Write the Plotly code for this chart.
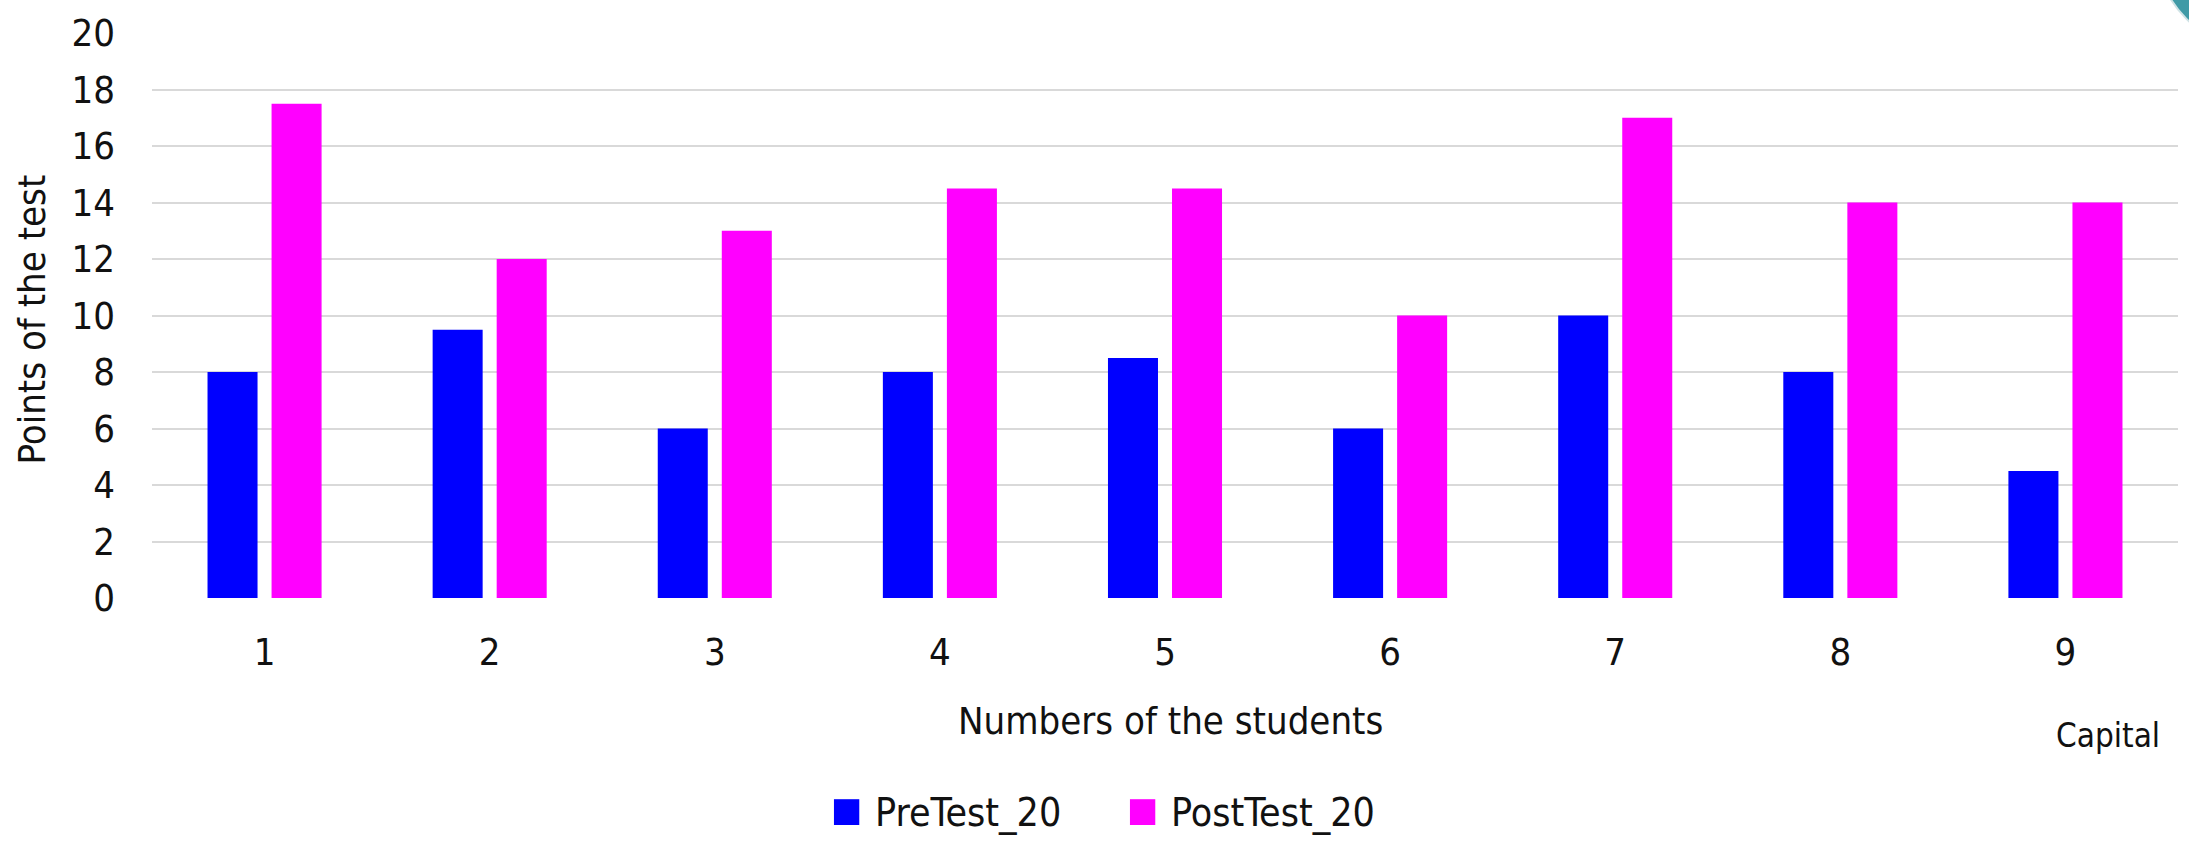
import plotly.graph_objects as go

students = ["1", "2", "3", "4", "5", "6", "7", "8", "9"]
pre_test = [8, 9.5, 6, 8, 8.5, 6, 10, 8, 4.5]
post_test = [17.5, 12, 13, 14.5, 14.5, 10, 17, 14, 14]
y_ticks = [0, 2, 4, 6, 8, 10, 12, 14, 16, 18, 20]
series_names = ["PreTest_20", "PostTest_20"]
series_colors = ["#0000ff", "#ff00ff"]

FONT = "DejaVu Sans Condensed, Liberation Sans Narrow, sans-serif"

fig = go.Figure()
for name, vals, col in zip(series_names, [pre_test, post_test], series_colors):
    fig.add_trace(go.Bar(x=students, y=vals, name=name, showlegend=False,
                         marker=dict(color=col, line=dict(width=0))))

# legend drawn below the chart: coloured squares with text labels
legend_shapes = []
legend_notes = []
legend_x = [0.3366, 0.4827]
for lx, name, col in zip(legend_x, series_names, series_colors):
    legend_shapes.append(dict(type="rect", xref="paper", yref="paper",
                              x0=lx, x1=lx + 0.0125, y0=-0.4018, y1=-0.3561,
                              fillcolor=col, line=dict(width=0)))
    legend_notes.append(dict(text=name, xref="paper", yref="paper", x=lx + 0.0195, y=-0.379,
                             showarrow=False, xanchor="left", yanchor="middle",
                             font=dict(size=39, family=FONT, color="#111111")))

fig.update_layout(
    width=2189, height=846,
    margin=dict(l=152, r=11, t=28, b=248),
    paper_bgcolor="white", plot_bgcolor="white",
    barmode="group", bargap=0.431, bargroupgap=0.219,
    font=dict(family=FONT, color="#111111"),
    showlegend=False,
    xaxis=dict(type="category", showgrid=False, zeroline=False, showline=False,
               ticks="", ticklabelstandoff=28, tickfont=dict(size=38, family=FONT)),
    yaxis=dict(range=[0, 20], tickvals=y_ticks, showgrid=True, gridcolor="#d9d9d9",
               gridwidth=2, zeroline=False, showline=False, ticks="",
               ticklabelstandoff=36, tickfont=dict(size=38, family=FONT)),
    annotations=[
        dict(text="Points of the test", xref="paper", yref="paper", x=-0.0592, y=0.493,
             textangle=-90, showarrow=False, font=dict(size=38, family=FONT),
             xanchor="center", yanchor="middle"),
        dict(text="Numbers of the students", xref="paper", yref="paper", x=0.5025, y=-0.2175,
             showarrow=False, font=dict(size=38, family=FONT),
             xanchor="center", yanchor="middle"),
        dict(text="Capital", xref="paper", yref="paper", x=0.992, y=-0.243,
             showarrow=False, font=dict(size=33, family=FONT),
             xanchor="right", yanchor="middle"),
    ] + legend_notes,
    shapes=[
        dict(type="circle", xref="paper", yref="paper",
             x0=0.989, x1=1.0918, y0=0.972, y1=1.337,
             fillcolor="#3f9aa6", line=dict(color="#cfe3e6", width=2), layer="above"),
    ] + legend_shapes,
)

fig.write_html("out.html")
